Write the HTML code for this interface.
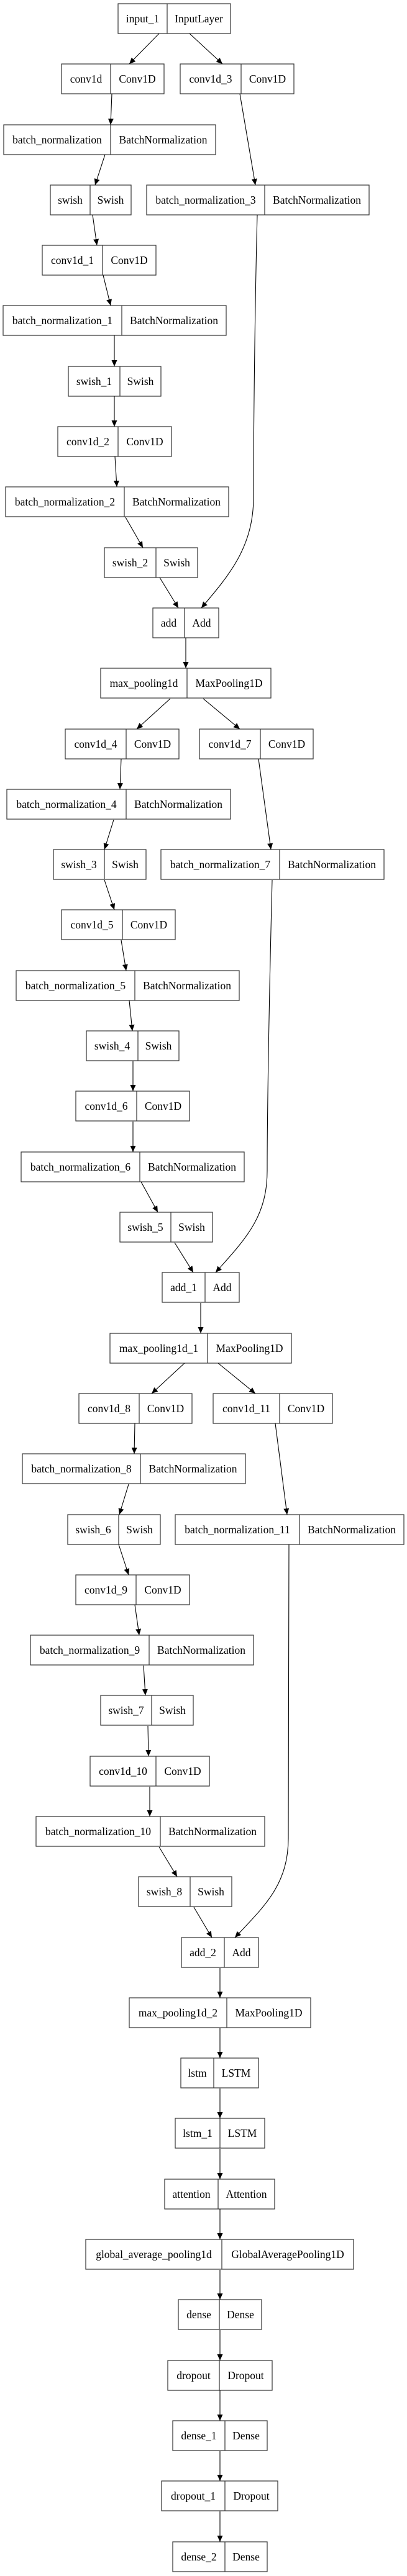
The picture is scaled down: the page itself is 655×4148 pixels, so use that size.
<!DOCTYPE html>
<html><head><meta charset="utf-8"><style>
html,body{margin:0;padding:0;background:#fff;}
svg{display:block;}
text{font-family:"Liberation Serif",serif;font-size:17.5px;fill:#000;text-anchor:middle;}
rect{fill:none;stroke:#333;stroke-width:1.2;}
.d{stroke:#333;stroke-width:1.2;}
.e{fill:none;stroke:#000;stroke-width:1.1;}
</style></head><body>
<svg width="655" height="4148" viewBox="0 0 655 4148" xmlns="http://www.w3.org/2000/svg">
<defs><marker id="a" markerUnits="userSpaceOnUse" markerWidth="10" markerHeight="9" refX="10" refY="4.5" orient="auto"><path d="M0,0 L10,4.5 L0,9 z" fill="#000"/></marker></defs>

<!-- nodes -->
<rect x="190" y="6" width="181" height="48"/><line class="d" x1="269" y1="6" x2="269" y2="54"/><text x="229.5" y="36">input_1</text><text x="320" y="36">InputLayer</text>

<rect x="99" y="103" width="165" height="48"/><line class="d" x1="178" y1="103" x2="178" y2="151"/><text x="138.5" y="133">conv1d</text><text x="221" y="133">Conv1D</text>
<rect x="290" y="103" width="183" height="48"/><line class="d" x1="388" y1="103" x2="388" y2="151"/><text x="339" y="133">conv1d_3</text><text x="430.5" y="133">Conv1D</text>

<rect x="6" y="201" width="341" height="48"/><line class="d" x1="178" y1="201" x2="178" y2="249"/><text x="92" y="231">batch_normalization</text><text x="262.5" y="231">BatchNormalization</text>

<rect x="81" y="298" width="130" height="48"/><line class="d" x1="145" y1="298" x2="145" y2="346"/><text x="113" y="328">swish</text><text x="178" y="328">Swish</text>
<rect x="236" y="298" width="358" height="48"/><line class="d" x1="426" y1="298" x2="426" y2="346"/><text x="331" y="328">batch_normalization_3</text><text x="510" y="328">BatchNormalization</text>

<rect x="68" y="395" width="183" height="48"/><line class="d" x1="165" y1="395" x2="165" y2="443"/><text x="116.5" y="425">conv1d_1</text><text x="208" y="425">Conv1D</text>

<rect x="5" y="492" width="359" height="48"/><line class="d" x1="196" y1="492" x2="196" y2="540"/><text x="100.5" y="522">batch_normalization_1</text><text x="280" y="522">BatchNormalization</text>

<rect x="110" y="590" width="149" height="48"/><line class="d" x1="193" y1="590" x2="193" y2="638"/><text x="151.5" y="620">swish_1</text><text x="226" y="620">Swish</text>

<rect x="93" y="687" width="183" height="48"/><line class="d" x1="190" y1="687" x2="190" y2="735"/><text x="141.5" y="717">conv1d_2</text><text x="233" y="717">Conv1D</text>

<rect x="9" y="784" width="359" height="48"/><line class="d" x1="200" y1="784" x2="200" y2="832"/><text x="104.5" y="814">batch_normalization_2</text><text x="284" y="814">BatchNormalization</text>

<rect x="168" y="882" width="150" height="48"/><line class="d" x1="251" y1="882" x2="251" y2="930"/><text x="209.5" y="912">swish_2</text><text x="284.5" y="912">Swish</text>

<rect x="246" y="979" width="106" height="48"/><line class="d" x1="297" y1="979" x2="297" y2="1027"/><text x="271.5" y="1009">add</text><text x="324.5" y="1009">Add</text>

<rect x="162" y="1076" width="274" height="48"/><line class="d" x1="301" y1="1076" x2="301" y2="1124"/><text x="231.5" y="1106">max_pooling1d</text><text x="368.5" y="1106">MaxPooling1D</text>

<rect x="105" y="1174" width="183" height="48"/><line class="d" x1="203" y1="1174" x2="203" y2="1222"/><text x="154" y="1204">conv1d_4</text><text x="245.5" y="1204">Conv1D</text>
<rect x="321" y="1174" width="183" height="48"/><line class="d" x1="419" y1="1174" x2="419" y2="1222"/><text x="370" y="1204">conv1d_7</text><text x="461.5" y="1204">Conv1D</text>

<rect x="11" y="1271" width="360" height="48"/><line class="d" x1="203" y1="1271" x2="203" y2="1319"/><text x="107" y="1301">batch_normalization_4</text><text x="287" y="1301">BatchNormalization</text>

<rect x="86" y="1368" width="149" height="48"/><line class="d" x1="168" y1="1368" x2="168" y2="1416"/><text x="127" y="1398">swish_3</text><text x="201.5" y="1398">Swish</text>
<rect x="259" y="1368" width="359" height="48"/><line class="d" x1="450" y1="1368" x2="450" y2="1416"/><text x="354.5" y="1398">batch_normalization_7</text><text x="534" y="1398">BatchNormalization</text>

<rect x="99" y="1465" width="183" height="48"/><line class="d" x1="197" y1="1465" x2="197" y2="1513"/><text x="148" y="1495">conv1d_5</text><text x="239.5" y="1495">Conv1D</text>

<rect x="26" y="1563" width="359" height="48"/><line class="d" x1="217" y1="1563" x2="217" y2="1611"/><text x="121.5" y="1593">batch_normalization_5</text><text x="301" y="1593">BatchNormalization</text>

<rect x="139" y="1660" width="149" height="48"/><line class="d" x1="222" y1="1660" x2="222" y2="1708"/><text x="180.5" y="1690">swish_4</text><text x="255" y="1690">Swish</text>

<rect x="122" y="1757" width="183" height="48"/><line class="d" x1="220" y1="1757" x2="220" y2="1805"/><text x="171" y="1787">conv1d_6</text><text x="262.5" y="1787">Conv1D</text>

<rect x="34" y="1855" width="359" height="48"/><line class="d" x1="225" y1="1855" x2="225" y2="1903"/><text x="129.5" y="1885">batch_normalization_6</text><text x="309" y="1885">BatchNormalization</text>

<rect x="193" y="1952" width="149" height="48"/><line class="d" x1="275" y1="1952" x2="275" y2="2000"/><text x="234" y="1982">swish_5</text><text x="308.5" y="1982">Swish</text>

<rect x="261" y="2049" width="124" height="48"/><line class="d" x1="330" y1="2049" x2="330" y2="2097"/><text x="295.5" y="2079">add_1</text><text x="357.5" y="2079">Add</text>

<rect x="177" y="2147" width="292" height="48"/><line class="d" x1="334" y1="2147" x2="334" y2="2195"/><text x="255.5" y="2177">max_pooling1d_1</text><text x="401.5" y="2177">MaxPooling1D</text>

<rect x="127" y="2244" width="182" height="48"/><line class="d" x1="224" y1="2244" x2="224" y2="2292"/><text x="175.5" y="2274">conv1d_8</text><text x="266.5" y="2274">Conv1D</text>
<rect x="343" y="2244" width="192" height="48"/><line class="d" x1="450" y1="2244" x2="450" y2="2292"/><text x="396.5" y="2274">conv1d_11</text><text x="492.5" y="2274">Conv1D</text>

<rect x="36" y="2341" width="359" height="48"/><line class="d" x1="226" y1="2341" x2="226" y2="2389"/><text x="131" y="2371">batch_normalization_8</text><text x="310.5" y="2371">BatchNormalization</text>

<rect x="109" y="2439" width="149" height="48"/><line class="d" x1="191" y1="2439" x2="191" y2="2487"/><text x="150" y="2469">swish_6</text><text x="224.5" y="2469">Swish</text>
<rect x="282" y="2439" width="368" height="48"/><line class="d" x1="482" y1="2439" x2="482" y2="2487"/><text x="382" y="2469">batch_normalization_11</text><text x="566" y="2469">BatchNormalization</text>

<rect x="122" y="2536" width="183" height="48"/><line class="d" x1="219" y1="2536" x2="219" y2="2584"/><text x="170.5" y="2566">conv1d_9</text><text x="262" y="2566">Conv1D</text>

<rect x="49" y="2633" width="359" height="48"/><line class="d" x1="240" y1="2633" x2="240" y2="2681"/><text x="144.5" y="2663">batch_normalization_9</text><text x="324" y="2663">BatchNormalization</text>

<rect x="162" y="2730" width="149" height="48"/><line class="d" x1="244" y1="2730" x2="244" y2="2778"/><text x="203" y="2760">swish_7</text><text x="277.5" y="2760">Swish</text>

<rect x="145" y="2828" width="192" height="48"/><line class="d" x1="251" y1="2828" x2="251" y2="2876"/><text x="198" y="2858">conv1d_10</text><text x="294" y="2858">Conv1D</text>

<rect x="58" y="2925" width="368" height="48"/><line class="d" x1="258" y1="2925" x2="258" y2="2973"/><text x="158" y="2955">batch_normalization_10</text><text x="342" y="2955">BatchNormalization</text>

<rect x="223" y="3022" width="150" height="48"/><line class="d" x1="306" y1="3022" x2="306" y2="3070"/><text x="264.5" y="3052">swish_8</text><text x="339.5" y="3052">Swish</text>

<rect x="292" y="3120" width="124" height="48"/><line class="d" x1="361" y1="3120" x2="361" y2="3168"/><text x="326.5" y="3150">add_2</text><text x="388.5" y="3150">Add</text>

<rect x="208" y="3217" width="292" height="48"/><line class="d" x1="365" y1="3217" x2="365" y2="3265"/><text x="286.5" y="3247">max_pooling1d_2</text><text x="432.5" y="3247">MaxPooling1D</text>

<rect x="291" y="3314" width="125" height="48"/><line class="d" x1="344" y1="3314" x2="344" y2="3362"/><text x="317.5" y="3344">lstm</text><text x="380" y="3344">LSTM</text>

<rect x="282" y="3411" width="144" height="48"/><line class="d" x1="354" y1="3411" x2="354" y2="3459"/><text x="318" y="3441">lstm_1</text><text x="390" y="3441">LSTM</text>

<rect x="265" y="3509" width="177" height="48"/><line class="d" x1="351" y1="3509" x2="351" y2="3557"/><text x="308" y="3539">attention</text><text x="396.5" y="3539">Attention</text>

<rect x="138" y="3606" width="431" height="48"/><line class="d" x1="357" y1="3606" x2="357" y2="3654"/><text x="247.5" y="3636">global_average_pooling1d</text><text x="463" y="3636">GlobalAveragePooling1D</text>

<rect x="287" y="3703" width="134" height="48"/><line class="d" x1="353" y1="3703" x2="353" y2="3751"/><text x="320" y="3733">dense</text><text x="387" y="3733">Dense</text>

<rect x="270" y="3801" width="168" height="48"/><line class="d" x1="353" y1="3801" x2="353" y2="3849"/><text x="311.5" y="3831">dropout</text><text x="395.5" y="3831">Dropout</text>

<rect x="278" y="3898" width="152" height="48"/><line class="d" x1="362" y1="3898" x2="362" y2="3946"/><text x="320" y="3928">dense_1</text><text x="396" y="3928">Dense</text>

<rect x="260" y="3995" width="187" height="48"/><line class="d" x1="362" y1="3995" x2="362" y2="4043"/><text x="311" y="4025">dropout_1</text><text x="404.5" y="4025">Dropout</text>

<rect x="278" y="4093" width="152" height="48"/><line class="d" x1="362" y1="4093" x2="362" y2="4141"/><text x="320" y="4123">dense_2</text><text x="396" y="4123">Dense</text>

<!-- edges -->
<g class="e" marker-end="url(#a)">
<path class="e" d="M256,54 L208,103"/>
<path class="e" d="M305,54 L358,103"/>
<path class="e" d="M180,151 L178,201"/>
<path class="e" d="M169,249 L153,298"/>
<path class="e" d="M386,151 L411,298"/>
<path class="e" d="M149,346 L156,395"/>
<path class="e" d="M166,443 L178,492"/>
<path class="e" d="M184,540 L184,590"/>
<path class="e" d="M184,638 L184,687"/>
<path class="e" d="M414,346 C410,500 408,700 408,800 C408,880 370,925 324,979"/>
<path class="e" d="M185,735 L188,784"/>
<path class="e" d="M202,833 L230,882"/>
<path class="e" d="M257,930 L287,979"/>
<path class="e" d="M299,1027 L299,1076"/>
<path class="e" d="M274,1125 L220,1174"/>
<path class="e" d="M327,1125 L386,1174"/>
<path class="e" d="M195,1222 L193,1271"/>
<path class="e" d="M183,1320 L168,1368"/>
<path class="e" d="M416,1222 L436,1368"/>
<path class="e" d="M168,1417 L184,1465"/>
<path class="e" d="M195,1514 L203,1563"/>
<path class="e" d="M208,1611 L213,1660"/>
<path class="e" d="M214,1709 L214,1757"/>
<path class="e" d="M214,1806 L214,1855"/>
<path class="e" d="M227,1903 L254,1952"/>
<path class="e" d="M281,2001 L311,2049"/>
<path class="e" d="M438,1417 C434,1570 430,1780 430,1885 C430,1960 395,1995 347,2049"/>
<path class="e" d="M323,2098 L323,2147"/>
<path class="e" d="M297,2195 L244,2244"/>
<path class="e" d="M351,2195 L411,2244"/>
<path class="e" d="M217,2292 L216,2341"/>
<path class="e" d="M207,2390 L192,2439"/>
<path class="e" d="M443,2292 L462,2439"/>
<path class="e" d="M191,2487 L207,2536"/>
<path class="e" d="M217,2584 L224,2633"/>
<path class="e" d="M231,2682 L234,2730"/>
<path class="e" d="M238,2779 L239,2828"/>
<path class="e" d="M465,2487 C464,2700 464,2880 464,2960 C464,3035 425,3070 378,3120"/>
<path class="e" d="M241,2877 L241,2925"/>
<path class="e" d="M256,2974 L285,3022"/>
<path class="e" d="M312,3071 L341,3120"/>
<path class="e" d="M354,3169 L354,3217"/>
<path class="e" d="M354,3266 L354,3314"/>
<path class="e" d="M354,3363 L354,3411"/>
<path class="e" d="M354,3460 L354,3509"/>
<path class="e" d="M354,3557 L354,3606"/>
<path class="e" d="M354,3655 L354,3703"/>
<path class="e" d="M354,3752 L354,3801"/>
<path class="e" d="M354,3849 L354,3898"/>
<path class="e" d="M354,3947 L354,3995"/>
<path class="e" d="M354,4044 L354,4093"/>
</g>
</svg>
</body></html>
